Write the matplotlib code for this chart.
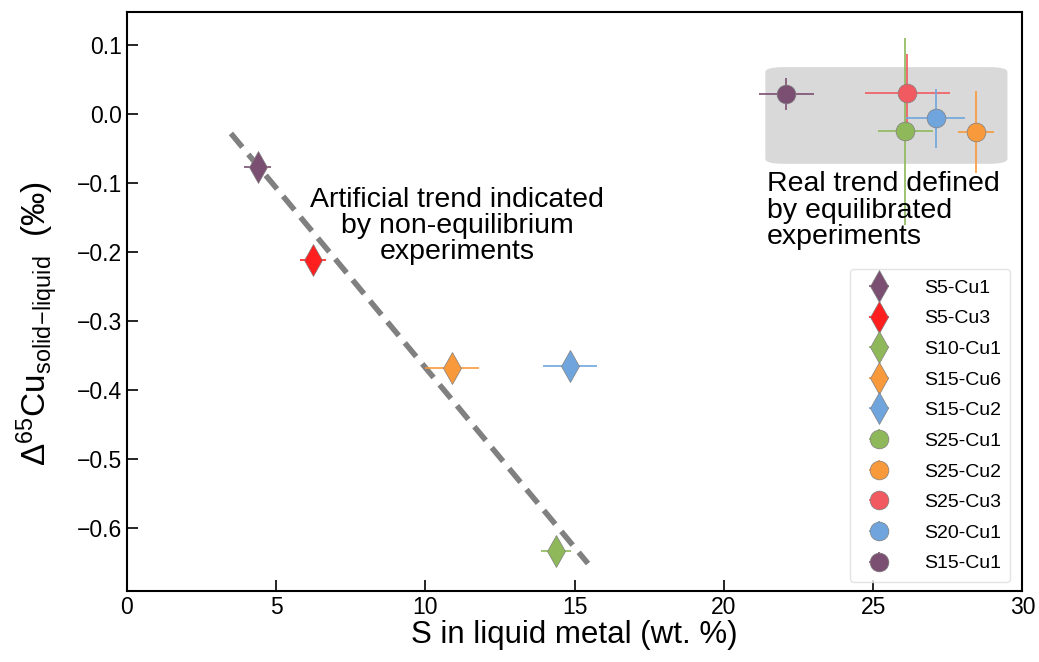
import matplotlib
matplotlib.use("Agg")
import matplotlib.pyplot as plt
from matplotlib.patches import FancyBboxPatch

plt.rcParams['font.family'] = ['Liberation Sans', 'DejaVu Sans']
plt.rcParams['mathtext.fontset'] = 'custom'
plt.rcParams['mathtext.rm'] = 'Liberation Sans'
plt.rcParams['mathtext.it'] = 'Liberation Sans'

labels = ['S5-Cu1', 'S5-Cu3', 'S10-Cu1', 'S15-Cu6', 'S15-Cu2',
          'S25-Cu1', 'S25-Cu2', 'S25-Cu3', 'S20-Cu1', 'S15-Cu1']
x_vals = [4.39, 6.24, 14.38, 10.9, 14.85, 26.08, 28.46, 26.15, 27.09, 22.09]
y_vals = [-0.077, -0.212, -0.633, -0.368, -0.365, -0.025, -0.026, 0.030, -0.006, 0.029]
x_err = [0.45, 0.45, 0.5, 0.9, 0.9, 0.92, 0.6, 1.43, 1.0, 0.92]
y_err = [0.0, 0.0, 0.0, 0.0, 0.0, 0.135, 0.059, 0.057, 0.043, 0.023]
colors = ['#7b4f72', '#ff1f1f', '#8fb85a', '#f8993c', '#6fa5dc',
          '#8fb85a', '#f8993c', '#f15a60', '#6fa5dc', '#7b4f72']
markers = ['d', 'd', 'd', 'd', 'd', 'o', 'o', 'o', 'o', 'o']

trend_x = [3.49, 15.45]
trend_y = [-0.028, -0.651]

fig = plt.figure(figsize=(10.39, 6.62), dpi=100)
ax = fig.add_axes([0.122, 0.107, 0.862, 0.875])

box = FancyBboxPatch((21.39, -0.072), 8.11, 0.140,
                     boxstyle="round,pad=0.0,rounding_size=0.6",
                     mutation_aspect=0.012,
                     facecolor='#d9d9d9', edgecolor='none', zorder=0)
ax.add_patch(box)

ax.plot(trend_x, trend_y, linestyle=(0, (3.2, 1.7)), color='#808080', lw=4, zorder=1)

for lab, x, y, xe, ye, c, m in zip(labels, x_vals, y_vals, x_err, y_err, colors, markers):
    ms = 16 if m == 'd' else 13.5
    ax.errorbar(x, y, xerr=xe, yerr=(ye if ye > 0 else None), fmt=m, color=c,
                ecolor=c, elinewidth=1.2, capsize=0, markersize=ms,
                markeredgecolor='#7f7f7f', markeredgewidth=0.5,
                label=lab, zorder=3)

ax.text(11.06, -0.162, 'Artificial trend indicated\nby non-equilibrium\nexperiments',
        ha='center', va='center', fontsize=20.5, linespacing=1.02)
ax.text(21.45, -0.140, 'Real trend defined\nby equilibrated\nexperiments',
        ha='left', va='center', fontsize=20.5, linespacing=1.02)

ax.set_xlim(0, 30)
ax.set_ylim(-0.691, 0.148)
ax.set_xticks([0, 5, 10, 15, 20, 25, 30])
ax.set_yticks([0.1, 0.0, -0.1, -0.2, -0.3, -0.4, -0.5, -0.6])
ax.set_yticklabels(['0.1', '0.0', '\u22120.1', '\u22120.2', '\u22120.3',
                    '\u22120.4', '\u22120.5', '\u22120.6'])
ax.tick_params(direction='in', labelsize=16.5, length=8, width=1.2, top=False, right=False)
for s in ax.spines.values():
    s.set_linewidth(1.5)

ax.set_xlabel('S in liquid metal (wt. %)', fontsize=22.5, labelpad=1)
ax.set_ylabel(r'$\Delta^{65}$Cu$_{\mathrm{solid\!-\!liquid}}$  (‰)', fontsize=24)
ax.yaxis.set_label_coords(-0.074, 0.463)

leg = ax.legend(loc='lower right', fontsize=14, frameon=True, fancybox=True,
                labelspacing=0.67, handletextpad=1.3, borderpad=0.5,
                borderaxespad=0.0,
                bbox_to_anchor=(0.9866, 0.0155), markerscale=1.0)
leg.get_frame().set_edgecolor('#dddddd')

fig.savefig('out.png', dpi=100)
